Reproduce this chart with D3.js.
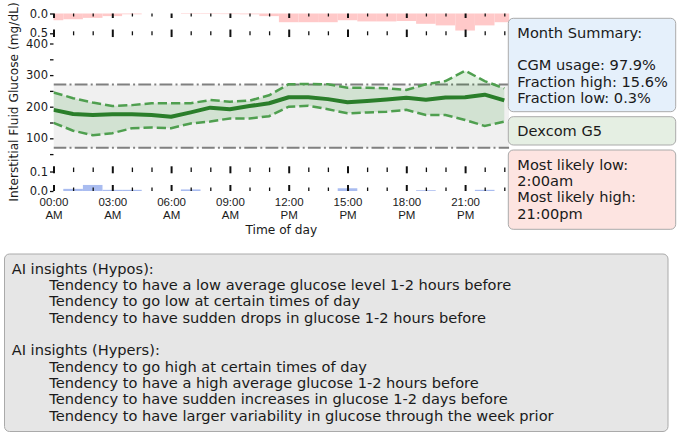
<!DOCTYPE html>
<html><head><meta charset="utf-8">
<script src="https://cdn.jsdelivr.net/npm/d3@7"></script>
<style>
body{margin:0;background:#fff;}
svg{display:block;font-family:"DejaVu Sans",sans-serif;}
</style>
</head><body>
<svg id="chart" width="680" height="435"></svg>
<script>
// ---------------- data ----------------
const hours = [0,1,2,3,4,5,6,7,8,9,10,11,12,13,14,15,16,17,18,19,20,21,22,23];
const meanGlucose  = [190,177,174,176,176,174,168,182,197,192,202,211,230,230,224,214,218,223,228,222,229,230,238,220];
const upperGlucose = [245,227,213,202,205,211,211,211,221,216,219,236,271,272,271,260,260,258,253,271,281,314,281,258];
const lowerGlucose = [149,124,110,116,132,134,132,147,153,163,163,170,200,203,192,179,182,184,190,174,174,158,139,153];
const fractionHigh = [0.17,0.145,0.11,0.066,0.02,0,0,0.012,0.012,0.015,0.02,0.066,0.22,0.22,0.22,0.17,0.2,0.2,0.19,0.26,0.3,0.43,0.3,0.22];
const fractionLow  = [0,0.011,0.031,0.006,0.006,0,0,0.008,0,0,0,0,0,0,0,0.014,0,0,0,0.004,0,0,0.006,0];
const targetRange = [70, 270];
const majorHours = [0,3,6,9,12,15,18,21];
const minorHours = [1,2,4,5,7,8,10,11,13,14,16,17,19,20,22,23];
const xTickLines1 = ["00:00","03:00","06:00","09:00","12:00","15:00","18:00","21:00"];
const xTickLines2 = ["AM","AM","AM","AM","PM","PM","PM","PM"];
const mainYTicks = [50,100,150,200,250,300,350,400];
const mainYLabels = [100,200,300,400];
const topYTicks = [0,0.5];
const botYTicks = [0,0.1];
const yAxisTitle = "Interstitial Fluid Glucose (mg/dL)";
const xAxisTitle = "Time of day";
const summaryLines = ["Month Summary:","","CGM usage: 97.9%","Fraction high: 15.6%","Fraction low: 0.3%"];
const deviceLines = ["Dexcom G5"];
const likelyLines = ["Most likely low:","2:00am","Most likely high:","21:00pm"];
const insightLines = [
  ["AI insights (Hypos):",0],
  ["Tendency to have a low average glucose level 1-2 hours before",1],
  ["Tendency to go low at certain times of day",1],
  ["Tendency to have sudden drops in glucose 1-2 hours before",1],
  ["",0],
  ["AI insights (Hypers):",0],
  ["Tendency to go high at certain times of day",1],
  ["Tendency to have a high average glucose 1-2 hours before",1],
  ["Tendency to have sudden increases in glucose 1-2 days before",1],
  ["Tendency to have larger variability in glucose through the week prior",1]
];

// ---------------- layout ----------------
const svg = d3.select("#chart");
const txt = "#1a1a1a";
const tickFont = 11.5, titleFont = 12.2, boxFont = 14.6;
const x = d3.scaleLinear().domain([0, 23.25]).range([53.5, 509.2]);
const yMain = d3.scaleLinear().domain([100, 300]).range([138.3, 75.1]);
const yTop = d3.scaleLinear().domain([0, 0.5]).range([13.5, 33.3]);
const yBot = d3.scaleLinear().domain([0, 0.1]).range([191, 171.5]);

svg.append("defs").append("clipPath").attr("id","plotclip")
  .append("rect").attr("x", x(0)).attr("y", 0).attr("width", x(23.25)-x(0)).attr("height", 240);

const plot = svg.append("g").attr("clip-path","url(#plotclip)");

// top strip: fraction high bars (inverted axis)
plot.append("g").selectAll("rect").data(hours).join("rect")
  .attr("x", h => x(h-0.5)).attr("width", h => x(h+0.5)-x(h-0.5))
  .attr("y", yTop(0)).attr("height", h => yTop(fractionHigh[h]) - yTop(0))
  .attr("fill", "#ffc9c9");

// bottom strip: fraction low bars
plot.append("g").selectAll("rect").data(hours).join("rect")
  .attr("x", h => x(h-0.5)).attr("width", h => x(h+0.5)-x(h-0.5))
  .attr("y", h => yBot(fractionLow[h])).attr("height", h => yBot(0) - yBot(fractionLow[h]))
  .attr("fill", "#a9bcf0");

// target band
plot.append("rect").attr("x", x(0)).attr("width", x(23.25)-x(0))
  .attr("y", yMain(targetRange[1])).attr("height", yMain(targetRange[0]) - yMain(targetRange[1]))
  .attr("fill", "#f0f0f0");
targetRange.forEach(v => {
  plot.append("line").attr("x1", x(0)).attr("x2", x(23.25))
    .attr("y1", yMain(v)).attr("y2", yMain(v))
    .attr("stroke", "#808080").attr("stroke-width", 2)
    .attr("stroke-dasharray", "12.8,3.2,2,3.2");
});

// IQR area
plot.append("path").datum(hours)
  .attr("d", d3.area().x(h => x(h)).y0(h => yMain(lowerGlucose[h])).y1(h => yMain(upperGlucose[h])))
  .attr("fill", "green").attr("fill-opacity", 0.12);
[upperGlucose, lowerGlucose].forEach(arr => {
  plot.append("path").datum(hours)
    .attr("d", d3.line().x(h => x(h)).y(h => yMain(arr[h])))
    .attr("fill","none").attr("stroke","#4f9f4f").attr("stroke-width",2.5)
    .attr("stroke-dasharray","9.25,4");
});
plot.append("path").datum(hours)
  .attr("d", d3.line().x(h => x(h)).y(h => yMain(meanGlucose[h])))
  .attr("fill","none").attr("stroke","#2a7e2a").attr("stroke-width",4)
  .attr("stroke-linejoin","round");

// x tick rows (major and minor) via d3 axes
function tickRow(yCenter, majorLen, minorLen, offsetFrac) {
  [[majorHours, majorLen, 2], [minorHours, minorLen, 1.3]].forEach(([vals, len, w]) => {
    const g = svg.append("g")
      .attr("transform", `translate(0,${yCenter - len*offsetFrac})`)
      .call(d3.axisBottom(x).tickValues(vals).tickSize(len).tickFormat(""));
    g.select(".domain").remove();
    g.selectAll("line").attr("stroke", "#111").attr("stroke-width", w);
  });
}
tickRow(13.5, 4.5, 3, 0);
tickRow(33.3, 7.5, 4, 0.5);
tickRow(169.8, 7, 4.5, 0.5);
tickRow(191, 6, 3.5, 1);

// x tick labels
const xl = svg.append("g").attr("transform", "translate(0,195)")
  .call(d3.axisBottom(x).tickValues(majorHours).tickSize(0).tickFormat(""));
xl.select(".domain").remove();
xl.selectAll(".tick").each(function(d, i) {
  const t = d3.select(this).append("text").attr("fill", txt).attr("font-size", tickFont)
    .attr("text-anchor","middle");
  t.append("tspan").attr("x", 0).attr("y", 10.8).text(xTickLines1[i]);
  t.append("tspan").attr("x", 0).attr("y", 24).text(xTickLines2[i]);
});

// y axes
function yAxis(scale, vals, fmt) {
  const g = svg.append("g").attr("transform", `translate(${x(0)},0)`)
    .call(d3.axisLeft(scale).tickValues(vals).tickSize(3.5).tickPadding(2).tickFormat(fmt));
  g.select(".domain").remove();
  g.selectAll("line").attr("stroke", "#111").attr("stroke-width", 1.3);
  g.selectAll("text").attr("fill", txt).attr("font-size", tickFont).attr("font-family", "DejaVu Sans");
}
yAxis(yMain, mainYTicks, d => mainYLabels.includes(d) ? d : "");
yAxis(yTop, topYTicks, d3.format(".1f"));
yAxis(yBot, botYTicks, d3.format(".1f"));

// axis titles
svg.append("text").attr("transform", "translate(14,102) rotate(-90)")
  .attr("text-anchor","middle").attr("dominant-baseline","central")
  .attr("font-size", titleFont).attr("fill", txt).text(yAxisTitle);
svg.append("text").attr("x", (x(0)+x(23.25))/2).attr("y", 230)
  .attr("text-anchor","middle").attr("dominant-baseline","central")
  .attr("font-size", titleFont).attr("fill", txt).text(xAxisTitle);

// text boxes
function box(bx, by, bw, bh, fill, lines, tx, ty, lh) {
  svg.append("rect").attr("x", bx).attr("y", by).attr("width", bw).attr("height", bh)
    .attr("rx", 5).attr("fill", fill).attr("stroke", "#aaaaaa").attr("stroke-width", 1);
  lines.forEach((l, i) => {
    const s = Array.isArray(l) ? l[0] : l;
    const ind = Array.isArray(l) ? l[1] : 0;
    svg.append("text").attr("x", tx + ind*37.6).attr("y", ty + i*lh)
      .attr("dominant-baseline","central").attr("font-size", boxFont).attr("fill", txt).text(s);
  });
}
box(508.3, 18.3, 167.4, 93.4, "#e5f0fb", summaryLines, 517.3, 32.3, 16.3);
box(508.3, 116.7, 167.4, 28.3, "#e5efe3", deviceLines, 517.3, 130.5, 16.3);
box(508.3, 150, 167.4, 79.3, "#fde4e1", likelyLines, 517.3, 164.3, 16.3);
box(4.5, 254, 663.5, 177.5, "#e6e6e6", insightLines, 11.7, 268.3, 16.3);
</script>
</body></html>
